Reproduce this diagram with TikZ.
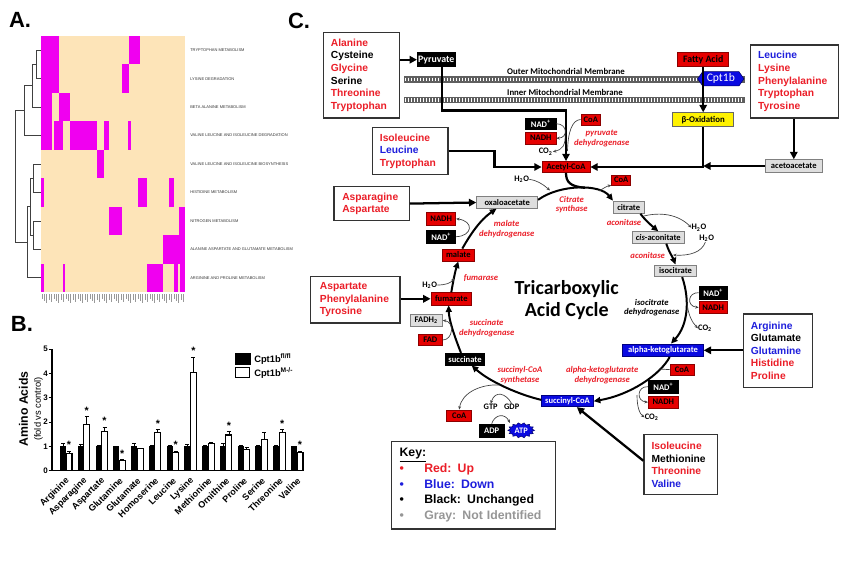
\documentclass[tikz,border=0pt]{standalone}
\usepackage{fontspec}
\setmainfont{Liberation Sans}
\newfontfamily\carl{Carlito}
\usetikzlibrary{arrows.meta,shapes.symbols}
\definecolor{hmbeige}{RGB}{253,228,184}
\definecolor{hmmag}{RGB}{240,0,240}
\definecolor{txred}{RGB}{235,30,40}
\definecolor{txblue}{RGB}{30,30,220}
\definecolor{bxred}{RGB}{230,0,0}
\definecolor{bxblue}{RGB}{10,10,225}
\definecolor{bxgray}{RGB}{222,222,222}
\definecolor{memgray}{RGB}{95,95,95}
\definecolor{txgray}{RGB}{150,150,150}
\tikzset{
  mbox/.style={inner sep=0pt, line width=0.6pt, font=\carl\bfseries\fontsize{6.4}{7}\selectfont},
  redbox/.style={mbox, draw=red!55!black, fill=bxred, text=black},
  blkbox/.style={mbox, draw=black, fill=black, text=white},
  bluebox/.style={mbox, draw=blue!50!black, fill=bxblue, text=white},
  graybox/.style={mbox, draw=black!50, fill=bxgray, text=black},
  yelbox/.style={mbox, draw=black!60, fill=yellow, text=black},
  aabox/.style={draw=black!80, line width=0.9pt, fill=white, inner ysep=0pt, inner xsep=5.7pt, align=left, anchor=north west, font=\bfseries\fontsize{7.7}{9.45}\selectfont},
  bigarr/.style={line width=1.7pt, -{Triangle[length=5.5pt,width=5.5pt]}},
  cycarr/.style={line width=1.5pt, -{Triangle[length=5pt,width=4.5pt]}},
  sidearr/.style={line width=0.5pt, draw=black!75, -{Stealth[length=2.6pt,width=2.2pt]}},
  sideln/.style={line width=0.5pt, draw=black!75},
  enz/.style={font=\carl\bfseries\itshape\fontsize{6.5}{7.3}\selectfont, text=txred, align=center, inner sep=0pt},
  chem/.style={font=\carl\bfseries\fontsize{6.3}{7}\selectfont, inner sep=0pt},
  hmlab/.style={font=\fontsize{3}{3.5}\selectfont, anchor=west, inner sep=0pt, text=black!80},
  panel/.style={font=\bfseries\fontsize{16.5}{18}\selectfont, inner sep=0pt}
}
\begin{document}
\begin{tikzpicture}[x=0.75pt,y=-0.75pt]
\useasboundingbox (0,0) rectangle (850,568);
\fill[white] (0,0) rectangle (850,568);

% ---------------- Panel A ----------------
\node[panel] (pA) at (20,19.5) {A.};
\fill[hmbeige] (40.7,36) rectangle (185,292);
\foreach \r/\a/\b in {1/40.7/58.7, 1/129/140, 2/40.7/58.7, 2/122/128.7, 3/40.7/51.7, 3/58.7/70,
  4/40.7/51.7, 4/54/63.3, 4/70/96.7, 4/104/108.7, 4/128.3/130.7, 5/96.7/104,
  6/40.7/44.3, 6/137.7/146.7, 6/169.3/174, 7/108.7/122, 7/178.7/185, 8/162.7/185,
  9/40.7/44.3, 9/62.7/65, 9/146.7/162.7, 9/174/178.3, 9/180.3/185}
  {\fill[hmmag] (\a,{36+28.44*(\r-1)}) rectangle (\b,{36+28.44*\r});}
\foreach \t [count=\i] in {TRYPTOPHAN METABOLISM, LYSINE DEGRADATION, BETA ALANINE METABOLISM,
  VALINE LEUCINE AND ISOLEUCINE DEGRADATION, VALINE LEUCINE AND ISOLEUCINE BIOSYNTHESIS,
  HISTIDINE METABOLISM, NITROGEN METABOLISM, ALANINE ASPARTATE AND GLUTAMATE METABOLISM,
  ARGININE AND PROLINE METABOLISM}
  {\node[hmlab] (hr\i) at (190,{36+28.44*(\i-0.5)}) {\t};}
\foreach \i in {0,...,59}{
  \pgfmathsetmacro\cl{5+mod(\i*7,5)}
  \draw[black!40, line width=0.35pt] ({41.8+2.4*\i},294) -- ({41.8+2.4*\i},{294+\cl});}
% dendrogram
\begin{scope}[line width=0.6pt, draw=black!75]
\draw (40.7,50.2) -| (36,78.7) -- (40.7,78.7);
\draw (36,64.5) -- (32,64.5) |- (40.7,107.1);
\draw (32,85.8) -- (24,85.8) |- (40.7,135.5);
\draw (40.7,164) -| (33.3,192.4) -- (40.7,192.4);
\draw (40.7,220.9) -| (33.3,249.3) -- (40.7,249.3);
\draw (33.3,178.2) -- (30,178.2) |- (33.3,235.1);
\draw (30,206.7) -- (27.3,206.7) |- (40.7,277.8);
\draw (24,110.7) -- (15,110.7) |- (27.3,242.2);
\end{scope}

% ---------------- Panel B ----------------
\node[panel] (pB) at (22,324) {B.};
\draw[line width=0.8pt] (52,349.3) -- (52,470.7) -- (304,470.7);
\foreach \v in {0,...,5}{
  \draw[line width=0.8pt] (48.5,{470.7-24.3*\v}) -- (52,{470.7-24.3*\v});
  \node[anchor=east, inner sep=0pt, font=\bfseries\fontsize{6}{7}\selectfont] (tk\v) at (48,{470.7-24.3*\v}) {\v};}
\foreach \w/\we/\be/\st [count=\i from 0] in {0.72/0.80/1.13/1, 1.90/2.22/1.08/1, 1.60/1.80/1.05/1,
  0.42/0.46/1.02/1, 0.90/0.93/1.13/0, 1.57/1.68/1.05/1, 0.74/0.80/1.04/1, 4.03/4.67/1.08/1,
  1.12/1.17/1.04/0, 1.47/1.60/1.12/1, 0.87/0.95/1.03/0, 1.28/1.57/1.05/0, 1.57/1.68/1.05/1, 0.75/0.80/1.02/1}{
  \pgfmathsetmacro\gx{60+17.77*\i}
  \fill[black] (\gx,470.7) rectangle ({\gx+6},446.4);
  \draw[line width=0.6pt] ({\gx+3},446.4) -- ({\gx+3},{470.7-24.3*\be}) ({\gx+1},{470.7-24.3*\be}) -- ({\gx+5},{470.7-24.3*\be});
  \draw[line width=0.8pt, fill=white] ({\gx+6},470.7) rectangle ({\gx+12},{470.7-24.3*\w});
  \draw[line width=0.6pt] ({\gx+9},{470.7-24.3*\w}) -- ({\gx+9},{470.7-24.3*\we}) ({\gx+7},{470.7-24.3*\we}) -- ({\gx+11},{470.7-24.3*\we});
  \ifnum\st=1 \node[font=\bfseries\fontsize{8}{8}\selectfont, inner sep=0pt] (star\i) at ({\gx+9},{470.7-24.3*\we-6}) {*};\fi
}
\foreach \n [count=\i from 0] in {Arginine,Asparagine,Aspartate,Glutamine,Glutamate,Homoserine,Leucine,Lysine,Methionine,Ornithine,Proline,Serine,Threonine,Valine}
  {\node[rotate=45, anchor=east, inner sep=0pt, font=\bfseries\fontsize{6.8}{7}\selectfont] (xl\i) at ({60+17.77*\i+8},479) {\n};}
\node[rotate=90, inner sep=0pt, font=\bfseries\fontsize{9.2}{10}\selectfont] (yl1) at (23.5,409) {Amino Acids};
\node[rotate=90, inner sep=0pt, font=\fontsize{7}{8}\selectfont] (yl2) at (38.5,409) {(fold vs control)};
\node[draw=black, fill=black, minimum width=11.25pt, minimum height=8.25pt, inner sep=0pt] (lg1) at (242.5,358.8) {};
\node[draw=black, line width=0.8pt, fill=white, minimum width=10.5pt, minimum height=7.5pt, inner sep=0pt] (lg2) at (242.5,372.7) {};
\node[anchor=west, inner sep=0pt, font=\bfseries\fontsize{7}{8}\selectfont] (lt1) at (254,358.8) {Cpt1b\textsuperscript{fl/fl}};
\node[anchor=west, inner sep=0pt, font=\bfseries\fontsize{7}{8}\selectfont] (lt2) at (254,372.7) {Cpt1b\textsuperscript{M-/-}};

% ---------------- Panel C ----------------
\node[panel] (pC) at (299,21) {C.};
% membranes
\foreach \my in {76,96.7}{
  \fill[memgray] (404,\my) rectangle (745,\my+6.7);
  \foreach \mx in {405.5,408.5,...,744}{\draw[white, line width=0.75pt] (\mx,\my+1.5) -- (\mx,\my+5.2);}}
\node[chem, font=\carl\bfseries\fontsize{6.6}{7}\selectfont] (outm) at (566,71.3) {Outer Mitochondrial Membrane};
\node[chem, font=\carl\bfseries\fontsize{6.6}{7}\selectfont] (inm) at (565,92) {Inner Mitochondrial Membrane};

% amino acid boxes
\node[aabox, text width=45.8pt, minimum height=64.2pt] (ala) at (322.7,31.7)
  {\textcolor{txred}{Alanine}\\Cysteine\\\textcolor{txred}{Glycine}\\Serine\\\textcolor{txred}{Threonine}\\\textcolor{txred}{Tryptophan}};
\node[aabox, text width=54.8pt, minimum height=54.75pt] (leu) at (750,44.3)
  {\textcolor{txblue}{Leucine}\\\textcolor{txred}{Lysine}\\\textcolor{txred}{Phenylalanine}\\\textcolor{txred}{Tryptophan}\\\textcolor{txred}{Tyrosine}};
\node[aabox, text width=45.3pt, minimum height=35.5pt] (ile) at (371.7,126.7)
  {\textcolor{txred}{Isoleucine}\\\textcolor{txblue}{Leucine}\\\textcolor{txred}{Tryptophan}};
\node[aabox, inner xsep=6.3pt, text width=43.9pt, minimum height=25.5pt, font=\bfseries\fontsize{7.7}{9}\selectfont] (asn) at (333.3,186)
  {\textcolor{txred}{Asparagine}\\\textcolor{txred}{Aspartate}};
\node[aabox, inner xsep=7pt, text width=53pt, minimum height=35pt] (asp) at (310,275.7)
  {\textcolor{txred}{Aspartate}\\\textcolor{txred}{Phenylalanine}\\\textcolor{txred}{Tyrosine}};
\node[aabox, text width=40.3pt, minimum height=55pt] (arg) at (742.7,313.3)
  {\textcolor{txblue}{Arginine}\\Glutamate\\\textcolor{txblue}{Glutamine}\\\textcolor{txred}{Histidine}\\\textcolor{txred}{Proline}};
\node[aabox, text width=43.6pt, minimum height=45.2pt, font=\bfseries\fontsize{7.7}{9.6}\selectfont] (ile2) at (643.3,434)
  {\textcolor{txred}{Isoleucine}\\Methionine\\\textcolor{txred}{Threonine}\\\textcolor{txblue}{Valine}};
\node[aabox, inner xsep=6pt, text width=111pt, minimum height=65.5pt, font=\bfseries\fontsize{9.2}{11.8}\selectfont] (key) at (391,441)
  {\underline{Key:}\\
   \textcolor{txred}{\makebox[18.5pt][l]{\textbullet}Red: Up}\\
   \textcolor{txblue}{\makebox[18.5pt][l]{\textbullet}Blue: Down}\\
   \makebox[18.5pt][l]{\textbullet}Black: Unchanged\\
   \textcolor{txgray}{\makebox[18.5pt][l]{\textbullet}Gray: Not Identified}};

% metabolite boxes
\node[blkbox, minimum width=28.3pt, minimum height=10.5pt, font=\carl\bfseries\fontsize{7.4}{8}\selectfont] (pyr) at (436.2,59.7) {Pyruvate};
\node[redbox, minimum width=38.25pt, minimum height=10.5pt, font=\carl\bfseries\fontsize{7.4}{8}\selectfont] (fa) at (703.2,59.7) {Fatty Acid};
\node[shape=signal, signal to=east and west, signal pointer angle=110, fill=bxblue, draw=blue!40!black, text=white, inner sep=0pt, minimum width=34.7pt, minimum height=10.7pt, font=\carl\fontsize{8.7}{9}\selectfont] (cpt) at (720.8,78.8) {Cpt1b};
\node[yelbox, minimum width=45.5pt, minimum height=10.5pt, font=\carl\bfseries\fontsize{6.6}{7}\selectfont] (betaox) at (703.2,119.7) {β-Oxidation};
\node[graybox, minimum width=42.75pt, minimum height=9.5pt] (aceto) at (793.8,166) {acetoacetate};
\node[redbox, minimum width=36pt, minimum height=8.25pt] (acetyl) at (566,167) {Acetyl-CoA};
\node[blkbox, minimum width=22.7pt, minimum height=8pt] (nadA) at (540.8,123.7) {NAD\textsuperscript{+}};
\node[redbox, minimum width=22.7pt, minimum height=8.8pt] (nadhA) at (540.8,138.2) {NADH};
\node[redbox, minimum width=14.8pt, minimum height=8.25pt] (coaA) at (590.8,119.5) {CoA};
\node[redbox, minimum width=14.25pt, minimum height=7.5pt] (coaB) at (621.2,180) {CoA};
\node[graybox, minimum width=45.75pt, minimum height=8.7pt] (oxa) at (507.2,202.5) {oxaloacetate};
\node[graybox, minimum width=23pt, minimum height=9.2pt] (cit) at (628.7,207.2) {citrate};
\node[graybox, minimum width=39.5pt, minimum height=8.7pt] (cis) at (658.3,237.5) {\textit{cis}-aconitate};
\node[graybox, minimum width=31.8pt, minimum height=8.8pt] (iso) at (675.5,270.8) {isocitrate};
\node[blkbox, minimum width=21.2pt, minimum height=10pt] (nadB) at (713.2,292.7) {NAD\textsuperscript{+}};
\node[redbox, minimum width=21.2pt, minimum height=8.7pt] (nadhB) at (713.2,307.5) {NADH};
\node[bluebox, minimum width=60.45pt, minimum height=9.5pt] (akg) at (663,350.3) {alpha-ketoglutarate};
\node[redbox, minimum width=18pt, minimum height=8.25pt] (coaC) at (682,369.5) {CoA};
\node[blkbox, minimum width=22.5pt, minimum height=10pt] (nadC) at (663.3,386.7) {NAD\textsuperscript{+}};
\node[redbox, minimum width=22.5pt, minimum height=9.2pt] (nadhC) at (663.3,402.2) {NADH};
\node[bluebox, minimum width=38.7pt, minimum height=8.25pt] (scoa) at (567.5,401.2) {succinyl-CoA};
\node[redbox, minimum width=18.75pt, minimum height=8.8pt] (coaD) at (459.2,415.8) {CoA};
\node[blkbox, minimum width=18.5pt, minimum height=10pt] (adp) at (491.7,430.7) {ADP};
\filldraw[fill=bxblue, draw=blue!45!black, line width=0.4pt] plot[samples=29, domain=0:28]
  ({521.2+(13.3-2.4*mod(round(\x),2))*cos(\x*360/28)}, {430.3+(7.6-1.8*mod(round(\x),2))*sin(\x*360/28)}) -- cycle;
\node[chem, text=white] (atp) at (521.2,430.3) {ATP};
\node[blkbox, minimum width=28.95pt, minimum height=8.8pt] (suc) at (465,359.2) {succinate};
\node[redbox, minimum width=18pt, minimum height=8.55pt] (fad) at (430.3,340) {FAD};
\node[graybox, minimum width=24.2pt, minimum height=9.5pt] (fadh) at (426.2,320.3) {FADH\textsubscript{2}};
\node[redbox, minimum width=30.5pt, minimum height=9.2pt] (fum) at (451.3,298.8) {fumarate};
\node[redbox, minimum width=23.5pt, minimum height=9pt] (mal) at (458.3,255) {malate};
\node[redbox, minimum width=21.75pt, minimum height=9.2pt] (nadhD) at (441.2,218.8) {NADH};
\node[blkbox, minimum width=21.75pt, minimum height=10pt] (nadD) at (441.2,236.7) {NAD\textsuperscript{+}};

% small chemical labels
\node[chem] (co2A) at (545.7,151.7) {CO\textsubscript{2}};
\node[chem] (h2oA) at (521.7,179.3) {H\textsubscript{2}O};
\node[chem] (h2oB) at (699,227.7) {H\textsubscript{2}O};
\node[chem] (h2oC) at (706.7,238.3) {H\textsubscript{2}O};
\node[chem] (co2B) at (705,328.3) {CO\textsubscript{2}};
\node[chem] (co2C) at (651.7,417.3) {CO\textsubscript{2}};
\node[chem] (h2oD) at (429.7,285) {H\textsubscript{2}O};
\node[chem] (gtp) at (490.7,406.7) {GTP};
\node[chem] (gdp) at (511.7,406.7) {GDP};

% enzymes
\node[enz] (pdh) at (601.7,138.7) {pyruvate\\dehydrogenase};
\node[enz] (cs) at (571.7,204.7) {Citrate\\synthase};
\node[enz] (acon1) at (624,222.7) {aconitase};
\node[enz] (acon2) at (647.7,255) {aconitase};
\node[enz, text=black] (icd) at (651.7,307.7) {isocitrate\\dehydrogenase};
\node[enz] (akgdh) at (602.2,375) {alpha-ketoglutarate\\dehydrogenase};
\node[enz] (scs) at (520,375.3) {succinyl-CoA\\synthetase};
\node[enz] (sdh) at (486.7,328.3) {succinate\\dehydrogenase};
\node[enz] (fumase) at (481,278.3) {fumarase};
\node[enz] (mdh) at (506.7,229.2) {malate\\dehydrogenase};
\node[font=\carl\bfseries\fontsize{15}{16.3}\selectfont, align=center, inner sep=0pt] (tca) at (566.7,300.2) {Tricarboxylic\\Acid Cycle};

% thick feeder arrows
\draw[bigarr] (ala.east |- pyr.west) -- (pyr.west);
\draw[bigarr] ([xshift=4.1pt]pyr.south) -- ++(0,43.3) -| (acetyl.north);
\draw[bigarr] (fa.south) -- (fa.south |- betaox.north);
\draw[bigarr] (betaox.south) |- (acetyl.east);
\draw[bigarr] (aceto.west) -- (betaox.south |- aceto.west);
\draw[bigarr] (aceto.north |- leu.south) -- (aceto.north);
\draw[bigarr] (ile.east) -- ++(46,0) |- (acetyl.west);
\draw[bigarr] (asn.east) -- (oxa.west);
\draw[bigarr] (asp.east |- fum.west) -- (fum.west);
\draw[bigarr] (arg.west |- akg.east) -- (akg.east);
\draw[bigarr] ([yshift=3pt]ile2.west) -- ([xshift=7pt]scoa.south);

% cycle
\draw[cycarr] ([yshift=2pt]oxa.east) .. controls (560,184) and (600,184) .. (cit.north west);
\draw[line width=1.7pt] (acetyl.south) .. controls (566,182) and (570,186.5) .. (585,187.8);
\draw[cycarr] ([xshift=-3pt]cit.south east) .. controls (645,220) and (652,226) .. (cis.north);
\draw[cycarr] ([xshift=6pt]cis.south) .. controls (668,250) and (673,258) .. (iso.north);
\draw[cycarr] ([xshift=5pt]iso.south) .. controls (690,300) and (688,325) .. ([xshift=6pt]akg.north);
\draw[cycarr] ([xshift=5pt]akg.south) .. controls (660,375) and (630,395) .. (scoa.east);
\draw[cycarr] ([yshift=1pt]scoa.west) .. controls (520,395) and (490,382) .. ([xshift=5pt]suc.south);
\draw[cycarr] ([xshift=-3pt]suc.north) .. controls (454,335) and (449,320) .. ([xshift=-2pt]fum.south);
\draw[cycarr] (fum.north) .. controls (453,282) and (455,272) .. (mal.south);
\draw[cycarr] ([xshift=3pt]mal.north) .. controls (470,235) and (480,220) .. ([xshift=-8pt]oxa.south);

% side reactions
\draw[sidearr] (nadA.east) .. controls (568,124) and (568,138) .. (nadhA.east);
\draw[sidearr] (565,134) .. controls (566,145) and (562,150) .. (co2A.east);
\draw[sideln] (coaA.west) .. controls (572,120) and (568,132) .. (567.5,151);
\draw[sidearr] (h2oA.east) .. controls (536,180) and (543,184) .. (550,190.5);
\draw[sidearr] (599,191) .. controls (604,188) and (607,186) .. (coaB.south west);
\draw[sidearr] (644,216) .. controls (660,212) and (678,214) .. (h2oB.west);
\draw[sidearr] ([xshift=-1pt]h2oC.south) .. controls (702,252) and (690,256) .. (673,255);
\draw[sidearr] (nadB.west) .. controls (688,292) and (686,306) .. (nadhB.west);
\draw[sidearr] (687,302) .. controls (688,315) and (692,322) .. (co2B.west);
\draw[sideln] (coaC.west) .. controls (665,369.5) and (662,369) .. (659,369);
\draw[sidearr] (nadC.west) .. controls (637,386) and (636,401) .. (nadhC.west);
\draw[sidearr] (637,395) .. controls (637,408) and (640,414) .. (co2C.west);
\draw[sidearr] (nadD.east) .. controls (473,236) and (474,221) .. (nadhD.east);
\draw[sidearr] (h2oD.east) .. controls (446,285) and (451,283) .. (454,278);
\draw[sidearr] (fad.east) .. controls (453,340) and (455,322) .. (fadh.east);
\draw[sidearr] (499,385) .. controls (482,384) and (462,392) .. (coaD.north);
\draw[sidearr] (gdp.north) .. controls (506,393) and (495,390) .. (gtp.north);
\draw[sidearr] (adp.north) .. controls (495,414) and (505,413) .. (510,423);
\end{tikzpicture}
\end{document}
